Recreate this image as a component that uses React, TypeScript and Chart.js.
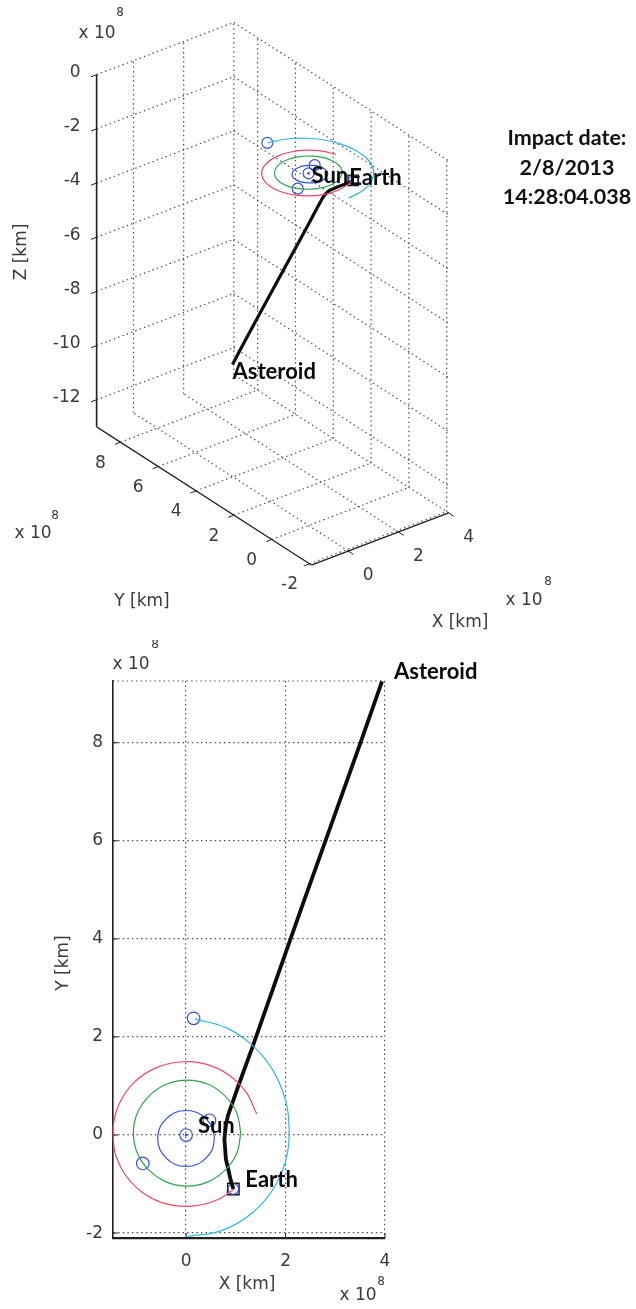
import React, { useEffect, useRef } from "react";
import { Chart, registerables } from "chart.js";

Chart.register(...registerables);

// ---------------- data (all coordinates in units of 1e8 km) ----------------
const asteroidX = [3.94, 3.51, 2.81, 2.39, 1.67, 1.34, 1.05, 0.84, 0.8, 0.77, 0.8, 0.9, 0.95];
const asteroidY = [9.25, 8.01, 6.02, 4.83, 2.76, 1.81, 1.0, 0.39, 0.19, -0.08, -0.49, -0.93, -1.1];
const asteroidZ = [-12.6, -11.0, -8.5, -7.0, -4.4, -3.2, -2.17, -1.4, -1.15, -0.87, -0.56, -0.25, -0.1];

const mercuryX = [0.57, 0.53, 0.4, 0.22, 0, -0.22, -0.4, -0.53, -0.57, -0.53, -0.4, -0.22, 0, 0.22, 0.4, 0.53, 0.57];
const mercuryY = [-0.07, 0.15, 0.33, 0.46, 0.5, 0.46, 0.33, 0.15, -0.07, -0.29, -0.47, -0.6, -0.64, -0.6, -0.47, -0.29, -0.07];

const venusX = [1.1, 1.02, 0.78, 0.43, 0.02, -0.39, -0.74, -0.98, -1.06, -0.98, -0.74, -0.39, 0.02, 0.43, 0.78, 1.02, 1.1];
const venusY = [0.04, 0.45, 0.8, 1.04, 1.12, 1.04, 0.8, 0.45, 0.04, -0.37, -0.72, -0.96, -1.04, -0.96, -0.72, -0.37, 0.04];

const earthOrbitX = [1.42, 1.21, 0.85, 0.38, -0.13, -0.63, -1.05, -1.34, -1.47, -1.43, -1.21, -0.85, -0.38, 0.13, 0.63, 0.97];
const earthOrbitY = [0.43, 0.87, 1.23, 1.45, 1.49, 1.36, 1.07, 0.65, 0.15, -0.36, -0.83, -1.19, -1.41, -1.45, -1.32, -1.1];

const marsX = [0.03, 0.71, 1.33, 1.79, 2.04, 2.06, 1.94, 1.69, 1.3, 0.8, 0.17];
const marsY = [-2.07, -1.95, -1.59, -1.04, -0.36, 0.36, 0.9, 1.41, 1.86, 2.19, 2.37];

// Sun, Mercury, Venus, Mars positions at impact
const bodyX = [0, 0.47, -0.87, 0.15];
const bodyY = [0, 0.3, -0.58, 2.38];
const earthX = [0.95];
const earthY = [-1.1];
const earthZ = [-0.1];

const xTicks = [0, 2, 4];
const yTicks = [-2, 0, 2, 4, 6, 8];
const zTicks = [0, -2, -4, -6, -8, -10, -12];
const xLim = [-1.47, 4];
const yLim = [-2.1, 9.26];
const zLim = [-13, 0];

const impactLines = ["Impact date:", "2/8/2013", "14:28:04.038"];
const sunLabel = "Sun";
const earthLabel = "Earth";
const asteroidLabel = "Asteroid";

// ---------------- 3D view (orthographic projection) ----------------
const VIEW_U = [0.926, -0.698, 0];
const VIEW_V = [0.352, 0.449, 1];
const VIEW_WINDOW_U = [-11.07, 11.766];
const VIEW_WINDOW_V = [-16.905, 6.075];

function project(x: number, y: number, z: number) {
  return {
    x: VIEW_U[0] * x + VIEW_U[1] * y + VIEW_U[2] * z,
    y: VIEW_V[0] * x + VIEW_V[1] * y + VIEW_V[2] * z,
  };
}

// ---------------- styles ----------------
const GRID_COLOR = "#4f4257";
const AXIS_COLOR = "#1f1f1f";
const TICK_COLOR = "#3a3a3a";
const BLUE = "#3552e0";
const GREEN = "#2aa64a";
const RED = "#f2475e";
const CYAN = "#2bb8e6";
const TICK_FONT = '17px "DejaVu Sans"';
const SUP_FONT = '12px "DejaVu Sans"';
const BOLD_FONT = "bold 22px Lato";
const IMPACT_FONT = "bold 21.5px Lato";
const DOTS = [1.4, 3.2];

type Pt = { x: number; y: number };
type Mapper = (xs: number[], ys: number[], zs?: number[]) => Pt[];

const map3: Mapper = (xs, ys, zs) => xs.map((x, i) => project(x, ys[i], zs ? zs[i] : 0));
const map2: Mapper = (xs, ys) => xs.map((x, i) => ({ x, y: ys[i] }));

function buildDatasets(m: Mapper, lineW: number, markerR: number): any[] {
  const orbit = (xs: number[], ys: number[], color: string) => ({
    data: m(xs, ys),
    showLine: true,
    borderColor: color,
    borderWidth: 1.2,
    pointRadius: 0,
    tension: 0.35,
    clip: false,
  });
  return [
    orbit(mercuryX, mercuryY, BLUE),
    orbit(venusX, venusY, GREEN),
    orbit(earthOrbitX, earthOrbitY, RED),
    orbit(marsX, marsY, CYAN),
    {
      data: m(asteroidX, asteroidY, asteroidZ),
      showLine: true,
      borderColor: "#0d0d0d",
      borderWidth: lineW,
      borderJoinStyle: "round",
      pointRadius: 0,
      tension: 0,
      clip: false,
    },
    {
      data: m(bodyX, bodyY),
      showLine: false,
      pointStyle: "circle",
      pointRadius: markerR,
      borderColor: BLUE,
      borderWidth: 1.2,
      backgroundColor: "rgba(0,0,0,0)",
      clip: false,
    },
    {
      data: m([bodyX[0]], [bodyY[0]]),
      showLine: false,
      pointStyle: "circle",
      pointRadius: 1.4,
      borderWidth: 0,
      backgroundColor: BLUE,
      clip: false,
    },
    {
      data: m(earthX, earthY, earthZ),
      showLine: false,
      pointStyle: "circle",
      pointRadius: markerR - 1,
      borderColor: BLUE,
      borderWidth: 1.2,
      backgroundColor: "rgba(0,0,0,0)",
      clip: false,
    },
    {
      data: m(earthX, earthY, earthZ),
      showLine: false,
      pointStyle: "rect",
      pointRadius: markerR + 1.8,
      borderColor: "#111",
      borderWidth: 1.4,
      backgroundColor: "rgba(0,0,0,0)",
      clip: false,
    },
  ];
}

function text(ctx: CanvasRenderingContext2D, s: string, x: number, y: number, font: string,
  align: CanvasTextAlign = "center", baseline: CanvasTextBaseline = "middle", color = TICK_COLOR) {
  ctx.font = font;
  ctx.textAlign = align;
  ctx.textBaseline = baseline;
  ctx.fillStyle = color;
  ctx.fillText(s, x, y);
}

function rotText(ctx: CanvasRenderingContext2D, s: string, x: number, y: number) {
  ctx.save();
  ctx.translate(x, y);
  ctx.rotate(-Math.PI / 2);
  text(ctx, s, 0, 0, TICK_FONT);
  ctx.restore();
}

function segment(ctx: CanvasRenderingContext2D, a: number[], b: number[]) {
  ctx.beginPath();
  ctx.moveTo(a[0], a[1]);
  ctx.lineTo(b[0], b[1]);
  ctx.stroke();
}

// ---------------- top (3D) decorations ----------------
const topDecor = {
  id: "topDecor",
  beforeDatasetsDraw(chart: any) {
    const { ctx } = chart;
    const sx = chart.scales.x, sy = chart.scales.y;
    const P = (X: number, Y: number, Z: number) => {
      const p = project(X, Y, Z);
      return [sx.getPixelForValue(p.x), sy.getPixelForValue(p.y)];
    };
    const [x0, x1] = xLim, [y0, y1] = yLim, [z0, z1] = zLim;
    ctx.save();
    ctx.strokeStyle = GRID_COLOR;
    ctx.lineWidth = 1.2;
    ctx.setLineDash(DOTS);
    xTicks.forEach((X) => { segment(ctx, P(X, y0, z0), P(X, y1, z0)); segment(ctx, P(X, y1, z0), P(X, y1, z1)); });
    yTicks.forEach((Y) => { segment(ctx, P(x0, Y, z0), P(x1, Y, z0)); segment(ctx, P(x1, Y, z0), P(x1, Y, z1)); });
    zTicks.forEach((Z) => { segment(ctx, P(x0, y1, Z), P(x1, y1, Z)); segment(ctx, P(x1, y1, Z), P(x1, y0, Z)); });
    ctx.setLineDash([]);
    ctx.strokeStyle = AXIS_COLOR;
    ctx.lineWidth = 1.6;
    segment(ctx, P(x0, y1, z0), P(x0, y1, z1));
    ctx.lineWidth = 1.2;
    segment(ctx, P(x0, y1, z0), P(x0, y0, z0));
    segment(ctx, P(x0, y0, z0), P(x1, y0, z0));
    const o = P(0, 0, 0);
    const dir = (b: number[], len: number) => {
      const dx = b[0] - o[0], dy = b[1] - o[1];
      const n = Math.hypot(dx, dy);
      return [(dx / n) * len, (dy / n) * len];
    };
    const negX = dir(P(-1, 0, 0), 6);
    const negY = dir(P(0, -1, 0), 6);
    ctx.lineWidth = 1;
    zTicks.forEach((Z) => { const p = P(x0, y1, Z); segment(ctx, p, [p[0] + negX[0], p[1] + negX[1]]); });
    yTicks.forEach((Y) => { const p = P(x0, Y, z0); segment(ctx, p, [p[0] + negX[0], p[1] + negX[1]]); });
    xTicks.forEach((X) => { const p = P(X, y0, z0); segment(ctx, p, [p[0] + negY[0], p[1] + negY[1]]); });
    ctx.restore();
  },
  afterDatasetsDraw(chart: any) {
    const { ctx } = chart;
    const sx = chart.scales.x, sy = chart.scales.y;
    const P = (X: number, Y: number, Z: number) => {
      const p = project(X, Y, Z);
      return [sx.getPixelForValue(p.x), sy.getPixelForValue(p.y)];
    };
    const [x0] = xLim, [y0, y1] = yLim, [z0] = zLim;
    ctx.save();
    zTicks.forEach((Z) => { const p = P(x0, y1, Z); text(ctx, String(Z), p[0] - 16, p[1] - 2, TICK_FONT, "right"); });
    yTicks.forEach((Y) => { const p = P(x0, Y, z0); text(ctx, String(Y), p[0] - 20, p[1] + 21, TICK_FONT); });
    xTicks.forEach((X) => { const p = P(X, y0, z0); text(ctx, String(X), p[0] + 20, p[1] + 25, TICK_FONT); });

    // axis titles and exponents
    rotText(ctx, "Z [km]", 22, 252);
    text(ctx, "x 10", 97, 34, TICK_FONT);
    text(ctx, "8", 120, 13, SUP_FONT);
    text(ctx, "Y [km]", 142, 602, TICK_FONT);
    text(ctx, "x 10", 33, 534, TICK_FONT);
    text(ctx, "8", 55, 516, SUP_FONT);
    text(ctx, "X [km]", 460, 623, TICK_FONT);
    text(ctx, "x 10", 524, 601, TICK_FONT);
    text(ctx, "8", 548, 582, SUP_FONT);

    // point labels
    const sun = P(bodyX[0], bodyY[0], 0);
    text(ctx, sunLabel, sun[0] + 3, sun[1] + 10, BOLD_FONT, "left", "alphabetic", "#0a0a0a");
    const ea = P(earthX[0], earthY[0], earthZ[0]);
    text(ctx, earthLabel, ea[0] - 4, ea[1] + 5, BOLD_FONT, "left", "alphabetic", "#0a0a0a");
    const as = P(asteroidX[0], asteroidY[0], asteroidZ[0]);
    text(ctx, asteroidLabel, as[0], as[1] + 14, BOLD_FONT, "left", "alphabetic", "#0a0a0a");

    // impact date
    const baselines = [145, 175, 204];
    impactLines.forEach((s, i) => text(ctx, s, 567, baselines[i], IMPACT_FONT, "center", "alphabetic", "#111"));
    ctx.restore();
  },
};

// ---------------- bottom (2D) decorations ----------------
const bottomDecor = {
  id: "bottomDecor",
  beforeDatasetsDraw(chart: any) {
    const { ctx, chartArea: a } = chart;
    const sx = chart.scales.x, sy = chart.scales.y;
    ctx.save();
    ctx.strokeStyle = GRID_COLOR;
    ctx.lineWidth = 1.2;
    ctx.setLineDash(DOTS);
    segment(ctx, [a.left, a.top], [a.right, a.top]);
    ctx.setLineDash([]);
    ctx.strokeStyle = AXIS_COLOR;
    ctx.lineWidth = 1;
    yTicks.forEach((v) => { const py = sy.getPixelForValue(v); segment(ctx, [a.left, py], [a.left + 5, py]); });
    xTicks.forEach((v) => { const px = sx.getPixelForValue(v); segment(ctx, [px, a.bottom], [px, a.bottom - 5]); });
    ctx.restore();
  },
  afterDatasetsDraw(chart: any) {
    const { ctx, chartArea: a } = chart;
    const sx = chart.scales.x, sy = chart.scales.y;
    ctx.save();
    rotText(ctx, "Y [km]", a.left - 49, (a.top + a.bottom) / 2 + 3.5);
    text(ctx, "X [km]", (a.left + a.right) / 2 - 2, a.bottom + 47, TICK_FONT);
    text(ctx, "x 10", a.left + 18, a.top - 16, TICK_FONT);
    text(ctx, "8", a.left + 42, a.top - 36, SUP_FONT);
    text(ctx, "x 10", a.right - 27, a.bottom + 58, TICK_FONT);
    text(ctx, "8", a.right - 4, a.bottom + 44, SUP_FONT);

    const lab = (s: string, X: number, Y: number) =>
      text(ctx, s, sx.getPixelForValue(X) + 12, sy.getPixelForValue(Y) - 2, BOLD_FONT, "left", "alphabetic", "#0a0a0a");
    lab(sunLabel, bodyX[0], bodyY[0]);
    lab(earthLabel, earthX[0], earthY[0]);
    lab(asteroidLabel, asteroidX[0], asteroidY[0]);
    ctx.restore();
  },
};

function topConfig(): any {
  return {
    type: "scatter",
    data: { datasets: buildDatasets(map3, 3.2, 5.5) },
    options: {
      animation: false,
      responsive: false,
      maintainAspectRatio: false,
      devicePixelRatio: 1,
      events: [],
      layout: { padding: 0 },
      plugins: { legend: { display: false }, tooltip: { enabled: false } },
      scales: {
        x: { type: "linear", display: false, min: VIEW_WINDOW_U[0], max: VIEW_WINDOW_U[1] },
        y: { type: "linear", display: false, min: VIEW_WINDOW_V[0], max: VIEW_WINDOW_V[1] },
      },
    },
    plugins: [topDecor],
  };
}

function bottomConfig(): any {
  const tickFont = { family: "DejaVu Sans", size: 17 };
  return {
    type: "scatter",
    data: { datasets: buildDatasets(map2, 3.8, 6.3) },
    options: {
      animation: false,
      responsive: false,
      maintainAspectRatio: false,
      devicePixelRatio: 1,
      events: [],
      layout: { padding: { left: 73, right: 251, top: 41, bottom: 31 } },
      plugins: { legend: { display: false }, tooltip: { enabled: false } },
      scales: {
        x: {
          type: "linear",
          min: xLim[0],
          max: xLim[1],
          afterFit: (s: any) => { s.height = 40; },
          ticks: { stepSize: 2, includeBounds: false, padding: 13, color: TICK_COLOR, font: tickFont, maxRotation: 0, autoSkip: false },
          grid: { color: GRID_COLOR, lineWidth: 1.2, drawTicks: false },
          border: { display: true, color: AXIS_COLOR, width: 2.2, dash: DOTS },
        },
        y: {
          type: "linear",
          min: yLim[0],
          max: yLim[1],
          afterFit: (s: any) => { s.width = 40; },
          ticks: { stepSize: 2, includeBounds: false, padding: 10, color: TICK_COLOR, font: tickFont, autoSkip: false },
          grid: { color: GRID_COLOR, lineWidth: 1.2, drawTicks: false },
          border: { display: true, color: AXIS_COLOR, width: 1.6, dash: DOTS },
        },
      },
    },
    plugins: [bottomDecor],
  };
}

export default function App() {
  const topRef = useRef<HTMLCanvasElement>(null);
  const botRef = useRef<HTMLCanvasElement>(null);
  useEffect(() => {
    const c1 = new Chart(topRef.current as HTMLCanvasElement, topConfig());
    const c2 = new Chart(botRef.current as HTMLCanvasElement, bottomConfig());
    return () => {
      c1.destroy();
      c2.destroy();
    };
  }, []);
  return (
    <div style={{ position: "absolute", left: 0, top: 0, width: 636, height: 1309, background: "#fff" }}>
      <canvas ref={topRef} width={636} height={640} style={{ position: "absolute", left: 0, top: 0, width: 636, height: 640 }} />
      <canvas ref={botRef} width={636} height={669} style={{ position: "absolute", left: 0, top: 640, width: 636, height: 669 }} />
    </div>
  );
}
